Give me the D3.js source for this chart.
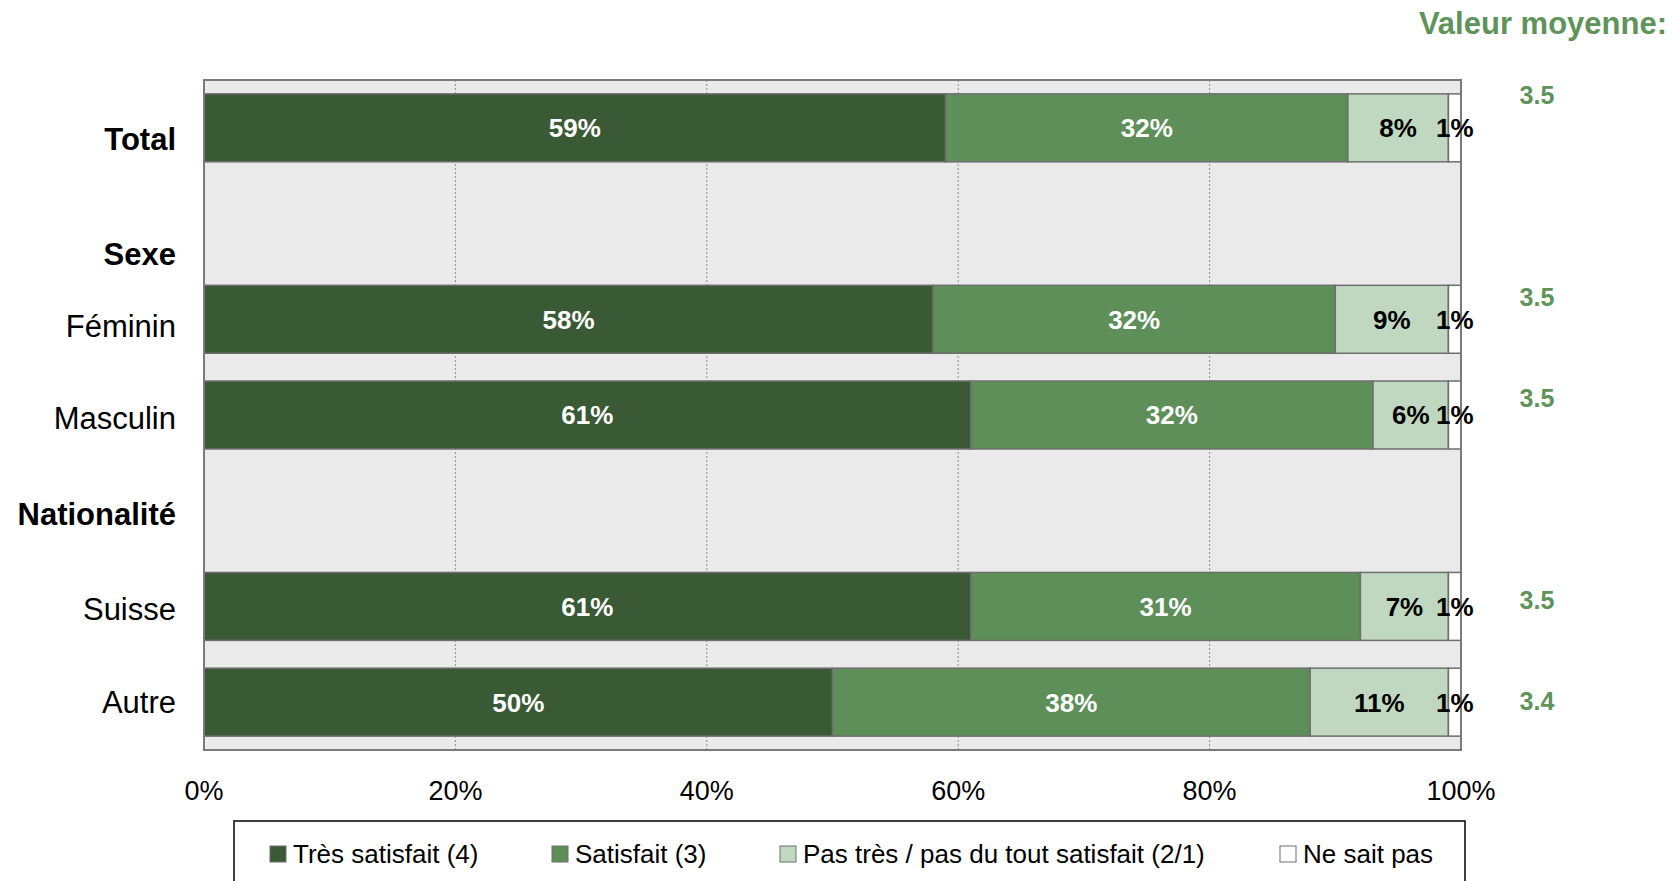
<!DOCTYPE html>
<html>
<head>
<meta charset="utf-8">
<script src="https://cdn.jsdelivr.net/npm/d3@7"></script>
<style>
  body { margin: 0; background: #fff; }
  svg { display: block; font-family: "Liberation Sans", Arial, sans-serif; }
</style>
</head>
<body>
<div id="chart"></div>
<script>
const categories = ["Total", "Sexe", "Féminin", "Masculin", "Nationalité", "Suisse", "Autre"];
const headers = ["Total", "Sexe", "Nationalité"];
const tresSatisfait = [59, null, 58, 61, null, 61, 50];
const satisfait = [32, null, 32, 32, null, 31, 38];
const pasTres = [8, null, 9, 6, null, 7, 11];
const neSaitPas = [1, null, 1, 1, null, 1, 1];
const moyennes = ["3.5", null, "3.5", "3.5", null, "3.5", "3.4"];
const seriesNames = ["Très satisfait (4)", "Satisfait (3)", "Pas très / pas du tout satisfait (2/1)", "Ne sait pas"];
const tickValues = [0, 20, 40, 60, 80, 100];

const colors = ["#3a5a36", "#5e8f59", "#c0d8bf", "#ffffff"];
const labelColors = ["#fff", "#fff", "#000", "#000"];
const green = "#5e935a";

const W = 1673, H = 881;
const plot = { left: 204, right: 1461, top: 80, bottom: 750 };

const svg = d3.select("#chart").append("svg")
  .attr("width", W).attr("height", H);

const x = d3.scaleLinear().domain([0, 100]).range([plot.left, plot.right]);
const y = d3.scaleBand().domain(categories)
  .range([plot.top, plot.bottom])
  .paddingInner(0.29).paddingOuter(0.145);
// mean values sit on their own text lines, slightly wider spaced
const yMean = d3.scalePoint().domain(categories).range([95, 701]);

// plot background
svg.append("rect")
  .attr("x", plot.left).attr("y", plot.top)
  .attr("width", plot.right - plot.left).attr("height", plot.bottom - plot.top)
  .attr("fill", "#eaeaea");

// gridlines
svg.selectAll(".grid")
  .data(tickValues.slice(1, -1))
  .join("line")
  .attr("class", "grid")
  .attr("x1", d => x(d)).attr("x2", d => x(d))
  .attr("y1", plot.top).attr("y2", plot.bottom)
  .attr("stroke", "#8c8c8c")
  .attr("stroke-width", 1)
  .attr("stroke-dasharray", "2,2");

// stacked rows
const seriesData = [tresSatisfait, satisfait, pasTres, neSaitPas];
const segments = [];
categories.forEach((c, i) => {
  let acc = 0;
  seriesData.forEach((s, k) => {
    if (s[i] == null) return;
    segments.push({ cat: c, k: k, x0: acc, x1: acc + s[i], v: s[i] });
    acc += s[i];
  });
});

svg.selectAll(".seg")
  .data(segments)
  .join("rect")
  .attr("class", "seg")
  .attr("x", d => x(d.x0))
  .attr("y", d => y(d.cat))
  .attr("width", d => x(d.x1) - x(d.x0))
  .attr("height", y.bandwidth())
  .attr("fill", d => colors[d.k])
  .attr("stroke", "#6e6e6e")
  .attr("stroke-width", 1.5);

// plot border
svg.append("rect")
  .attr("x", plot.left).attr("y", plot.top)
  .attr("width", plot.right - plot.left).attr("height", plot.bottom - plot.top)
  .attr("fill", "none")
  .attr("stroke", "#7a7a7a")
  .attr("stroke-width", 2);

// value labels
svg.selectAll(".val")
  .data(segments)
  .join("text")
  .attr("class", "val")
  .attr("x", d => x((d.x0 + d.x1) / 2))
  .attr("y", d => y(d.cat) + y.bandwidth() / 2)
  .attr("dy", "0.36em")
  .attr("text-anchor", "middle")
  .attr("font-size", 26)
  .attr("font-weight", "bold")
  .attr("fill", d => labelColors[d.k])
  .text(d => d.v + "%");

// category labels
const labelNudge = { "Total": 11, "Sexe": 30, "Féminin": 7, "Masculin": 3, "Nationalité": 3, "Suisse": 2, "Autre": 0 };
svg.selectAll(".cat")
  .data(categories)
  .join("text")
  .attr("class", "cat")
  .attr("x", 176)
  .attr("y", d => y(d) + y.bandwidth() / 2 + labelNudge[d])
  .attr("dy", "0.36em")
  .attr("text-anchor", "end")
  .attr("font-size", 31)
  .attr("font-weight", d => headers.includes(d) ? "bold" : "normal")
  .attr("fill", "#000")
  .text(d => d);

// x axis tick labels
svg.selectAll(".tick")
  .data(tickValues)
  .join("text")
  .attr("class", "tick")
  .attr("x", d => x(d))
  .attr("y", 800)
  .attr("text-anchor", "middle")
  .attr("font-size", 27)
  .attr("fill", "#000")
  .text(d => d + "%");

// mean values
svg.append("text")
  .attr("x", 1667).attr("y", 34)
  .attr("text-anchor", "end")
  .attr("font-size", 31)
  .attr("font-weight", "bold")
  .attr("fill", green)
  .text("Valeur moyenne:");

svg.selectAll(".mean")
  .data(categories.map((c, i) => ({ cat: c, v: moyennes[i] })).filter(d => d.v != null))
  .join("text")
  .attr("class", "mean")
  .attr("x", 1537)
  .attr("y", d => yMean(d.cat))
  .attr("dy", "0.36em")
  .attr("text-anchor", "middle")
  .attr("font-size", 25)
  .attr("font-weight", "bold")
  .attr("fill", green)
  .text(d => d.v);

// legend
svg.append("rect")
  .attr("x", 234).attr("y", 821)
  .attr("width", 1231).attr("height", 80)
  .attr("fill", "#fff")
  .attr("stroke", "#000")
  .attr("stroke-width", 1.5);

const legendX = [270, 552, 780, 1280];
const lg = svg.selectAll(".leg")
  .data(seriesNames)
  .join("g")
  .attr("class", "leg")
  .attr("transform", (d, i) => `translate(${legendX[i]}, 854)`);

lg.append("rect")
  .attr("x", 0).attr("y", -8)
  .attr("width", 16).attr("height", 16)
  .attr("fill", (d, i) => colors[i])
  .attr("stroke", "#6e6e6e")
  .attr("stroke-width", 1);

lg.append("text")
  .attr("x", 23).attr("y", 0)
  .attr("dy", "0.36em")
  .attr("font-size", 26)
  .attr("fill", "#000")
  .text(d => d);
</script>
</body>
</html>
